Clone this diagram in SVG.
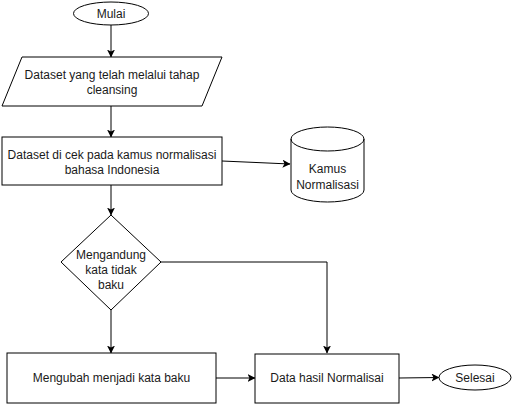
<svg xmlns="http://www.w3.org/2000/svg" width="512" height="405" viewBox="0 0 512 405">
<style>
.s{fill:#fff;stroke:#000;stroke-width:1}
.t{font-family:"Liberation Sans",Arial,sans-serif;font-size:12px;fill:#1a1a1a;text-anchor:middle;dominant-baseline:central}
.c{fill:none;stroke:#000;stroke-width:1}
</style>
<defs>
<marker id="a" markerWidth="8" markerHeight="8" viewBox="0 0 8 8" refX="7.5" refY="4" orient="auto" markerUnits="userSpaceOnUse">
<path d="M0,0 L8,4 L0,8 L2,4 Z" fill="#000"/>
</marker>
</defs>
<rect width="512" height="405" fill="#fff"/>
<g id="connectors">
<path class="c" d="M111,25 V57" marker-end="url(#a)"/>
<path class="c" d="M111,106 V137" marker-end="url(#a)"/>
<path class="c" d="M222,161 L290,164" marker-end="url(#a)"/>
<path class="c" d="M111,185 V215" marker-end="url(#a)"/>
<path class="c" d="M161,262 H327 V353" marker-end="url(#a)"/>
<path class="c" d="M111,309 V353" marker-end="url(#a)"/>
<path class="c" d="M216,378 H255" marker-end="url(#a)"/>
<path class="c" d="M399,378 L439,377.5" marker-end="url(#a)"/>
</g>
<g id="mulai">
<ellipse class="s" cx="111" cy="13.5" rx="37.5" ry="11.5"/>
<text class="t" x="111" y="13.5">Mulai</text>
</g>
<g id="dataset-input">
<polygon class="s" points="22,57 222,57 202,106 2,106"/>
<text class="t" x="112" y="75">Dataset yang telah melalui tahap</text>
<text class="t" x="112" y="90">cleansing</text>
</g>
<g id="cek-kamus">
<rect class="s" x="2" y="137" width="220" height="48"/>
<text class="t" x="112" y="155">Dataset di cek pada kamus normalisasi</text>
<text class="t" x="112" y="170">bahasa Indonesia</text>
</g>
<g id="kamus">
<path class="s" d="M291,139 A36.5,12 0 0 1 364,139 V190 A36.5,12 0 0 1 291,190 Z"/>
<path class="c" d="M291,139 A36.5,12 0 0 0 364,139"/>
<text class="t" x="327.5" y="169">Kamus</text>
<text class="t" x="327.5" y="185">Normalisasi</text>
</g>
<g id="decision">
<polygon class="s" points="111,215 161,262 111,310 61,262"/>
<text class="t" x="111" y="255">Mengandung</text>
<text class="t" x="111" y="270">kata tidak</text>
<text class="t" x="111" y="285">baku</text>
</g>
<g id="mengubah">
<rect class="s" x="7" y="353" width="209" height="50"/>
<text class="t" x="111.5" y="378">Mengubah menjadi kata baku</text>
</g>
<g id="hasil">
<rect class="s" x="255" y="354" width="144" height="49"/>
<text class="t" x="327" y="378">Data hasil Normalisai</text>
</g>
<g id="selesai">
<ellipse class="s" cx="475" cy="377.5" rx="36" ry="12.5"/>
<text class="t" x="475" y="377.5">Selesai</text>
</g>
</svg>
